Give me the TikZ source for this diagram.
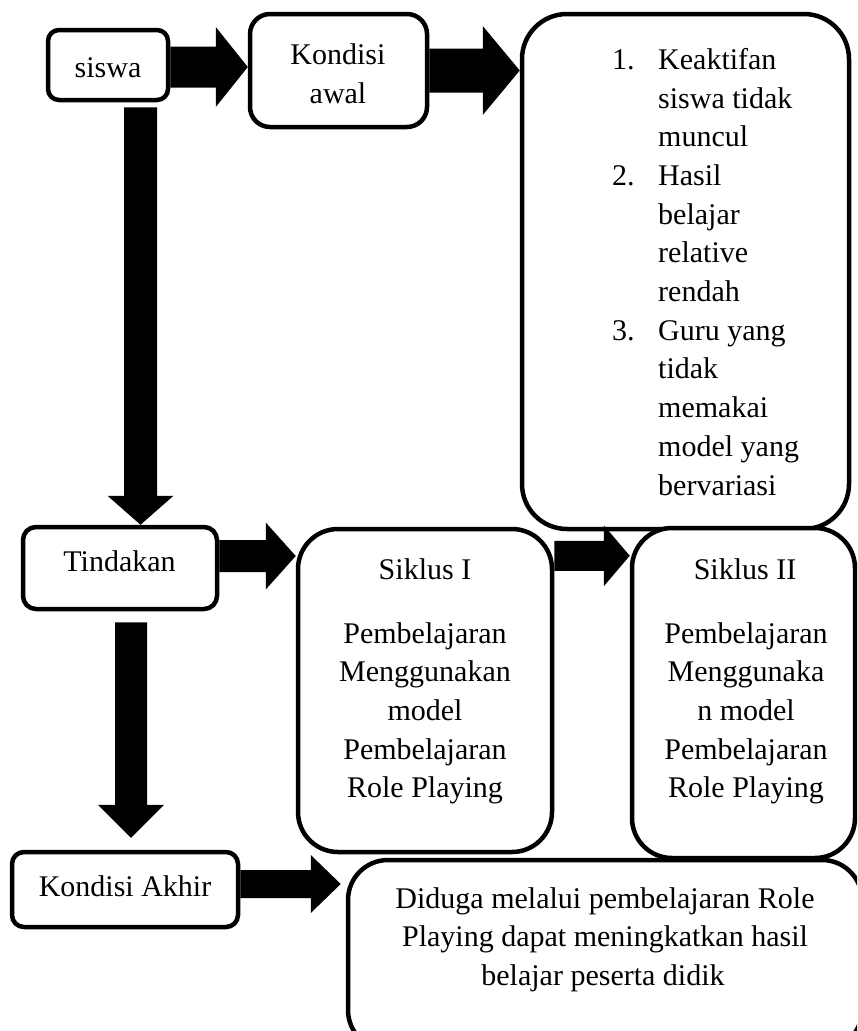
\documentclass[tikz,border=0pt]{standalone}
\usepackage{fontspec}
\setmainfont{Liberation Serif}
\usetikzlibrary{calc}
\tikzset{
  box/.style={draw, line width=4.5pt, fill=white, inner sep=0pt, rectangle},
  txt/.style={inner sep=0pt, font=\fontsize{30}{38.7}\selectfont, anchor=base},
}
\newcommand\harrow[5]{\fill let \p1=#1, \p2=#2 in
  (\x1,\y1+#3) -- (\x2-#5,\y1+#3) -- (\x2-#5,\y1+#4) -- (\x2,\y1) --
  (\x2-#5,\y1-#4) -- (\x2-#5,\y1-#3) -- (\x1,\y1-#3) -- cycle;}
\newcommand\varrow[5]{\fill let \p1=#1, \p2=#2 in
  (\x1+#3,\y1) -- (\x1+#3,\y2+#5) -- (\x1+#4,\y2+#5) -- (\x1,\y2) --
  (\x1-#4,\y2+#5) -- (\x1-#3,\y2+#5) -- (\x1-#3,\y1) -- cycle;}
\begin{document}
\begin{tikzpicture}[x=1pt,y=-1pt]
\useasboundingbox (0,0) rectangle (857,1031);
\clip (0,0) rectangle (857,1031);
\fill[white] (0,0) rectangle (857,1031);

% boxes
\node[box, rounded corners=11pt, minimum width=120pt, minimum height=70pt] (siswa) at (108,65) {};
\node[box, rounded corners=20pt, minimum width=177pt, minimum height=113pt] (kondisi) at (338.5,70.5) {};
\node[box, rounded corners=45pt, minimum width=327pt, minimum height=515pt] (rbox) at (685.5,271.5) {};
\node[box, rounded corners=13pt, minimum width=194pt, minimum height=82pt] (tindakan) at (120,568) {};
\node[box, rounded corners=40pt, minimum width=254pt, minimum height=323pt] (siklus1) at (425,690.5) {};
\node[box, rounded corners=40pt, minimum width=223pt, minimum height=330pt] (siklus2) at (743.5,693) {};
\node[box, rounded corners=12pt, minimum width=226pt, minimum height=75pt] (akhir) at (125,889.5) {};
\node[box, rounded corners=40pt, minimum width=514pt, minimum height=190pt] (final) at (605,955) {};

% texts
\node[txt] (tsiswa) at (108,77) {siswa};
\node[txt] (tkond1) at (338,64.5) {Kondisi};
\node[txt] (tkond2) at (338,103.2) {awal};
\node[txt] (ttind) at (119.5,571.7) {Tindakan};
\node[txt] (takhir) at (125,896.7) {Kondisi Akhir};

\node[txt, anchor=base west] (n1) at (612,69.3) {1.};
\node[txt, anchor=base west] (n2) at (612,185.4) {2.};
\node[txt, anchor=base west] (n3) at (612,340.2) {3.};
\foreach \t [count=\i] in {Keaktifan, siswa tidak, muncul, Hasil, belajar, relative, rendah, Guru yang, tidak, memakai, model yang, bervariasi}
  \node[txt, anchor=base west] (r\i) at (658,{69.3+(\i-1)*38.7}) {\t};

\node[txt] (s1t) at (425,579) {Siklus I};
\node[txt] (s2t) at (745,579) {Siklus II};
\foreach \t [count=\i] in {Pembelajaran, Menggunakan, model, Pembelajaran, Role Playing}
  \node[txt] (s1l\i) at (425,{643+(\i-1)*38.7}) {\t};
\foreach \t [count=\i] in {Pembelajaran, Menggunaka, n model, Pembelajaran, Role Playing}
  \node[txt] (s2l\i) at (746,{643+(\i-1)*38.7}) {\t};

\node[txt] (f1) at (605,908) {Diduga melalui pembelajaran Role};
\node[txt] (f2) at (605,946.5) {Playing dapat meningkatkan hasil};
\node[txt] (f3) at (603,985) {belajar peserta didik};

% block arrows
\harrow{([yshift=-2pt]siswa.east)}{(kondisi.west)}{20.5pt}{40pt}{32pt}
\harrow{(kondisi.east)}{(rbox.west)}{22pt}{44.5pt}{37pt}
\harrow{([yshift=12pt]tindakan.east)}{(siklus1.west)}{16pt}{33.5pt}{30pt}
\harrow{([yshift=-29pt]siklus1.north east)}{(siklus2.west)}{15pt}{30.5pt}{26pt}
\harrow{([yshift=5.5pt]akhir.east)}{([xshift=-5pt]final.west)}{14pt}{29pt}{30pt}
\varrow{([xshift=32.5pt,yshift=-5pt]siswa.south)}{(tindakan.north)}{16.5pt}{33pt}{29pt}
\varrow{([xshift=11pt,yshift=-11pt]tindakan.south)}{([yshift=12pt]akhir.north)}{16pt}{33pt}{33pt}
\end{tikzpicture}
\end{document}
